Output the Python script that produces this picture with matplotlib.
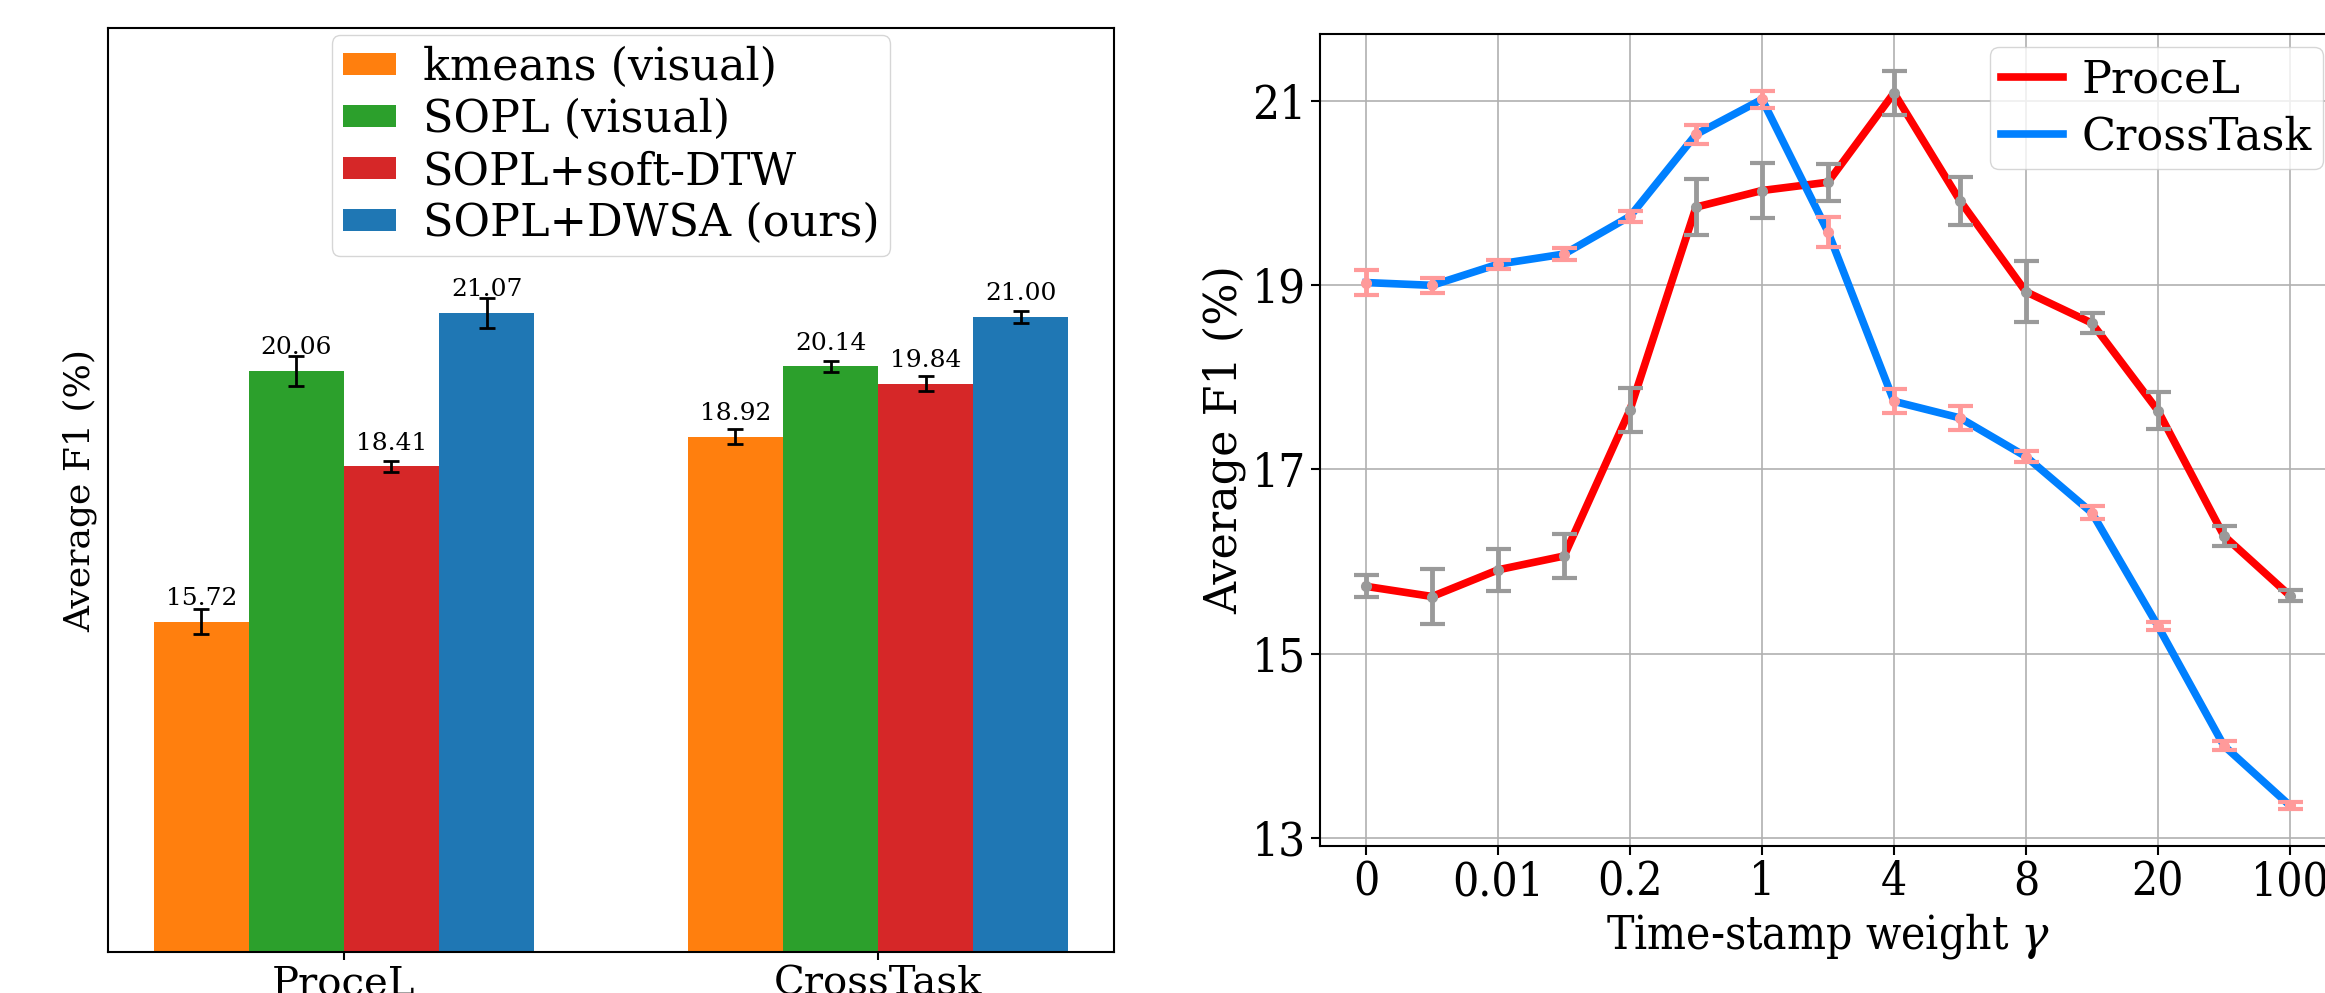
import matplotlib
matplotlib.use('Agg')
import matplotlib.pyplot as plt
from matplotlib import font_manager as fm
import numpy as np

plt.rcParams['font.family'] = 'DejaVu Serif'
plt.rcParams['mathtext.fontset'] = 'dejavuserif'

# ---------------- data: left bar chart ----------------
datasets = ['ProceL', 'CrossTask']
methods = ['kmeans (visual)', 'SOPL (visual)', 'SOPL+soft-DTW', 'SOPL+DWSA (ours)']
kmeans_f1 = [15.72, 18.92]
kmeans_err = [0.22, 0.13]
sopl_f1 = [20.06, 20.14]
sopl_err = [0.26, 0.09]
softdtw_f1 = [18.41, 19.84]
softdtw_err = [0.10, 0.13]
dwsa_f1 = [21.07, 21.00]
dwsa_err = [0.26, 0.10]
bar_colors = ['tab:orange', 'tab:green', 'tab:red', 'tab:blue']

# ---------------- data: right line chart ----------------
gamma_tick_labels = ['0', '0.01', '0.2', '1', '4', '8', '20', '100']
procel_f1 = [15.73, 15.62, 15.91, 16.06, 17.65, 19.85, 20.03, 20.12, 21.09,
             19.92, 18.93, 18.59, 17.64, 16.28, 15.63]
procel_err = [0.12, 0.30, 0.23, 0.24, 0.24, 0.30, 0.30, 0.20, 0.24,
              0.26, 0.33, 0.11, 0.20, 0.11, 0.06]
crosstask_f1 = [19.03, 19.00, 19.23, 19.34, 19.75, 20.64, 21.02, 19.58, 17.74,
                17.56, 17.14, 16.53, 15.30, 14.00, 13.35]
crosstask_err = [0.14, 0.08, 0.05, 0.07, 0.06, 0.10, 0.09, 0.16, 0.13,
                 0.13, 0.06, 0.07, 0.04, 0.05, 0.04]

# condensed serif for some texts of the right panel
cond_family = 'DejaVu Serif'
cond_stretch = 'normal'
for f in fm.fontManager.ttflist:
    if f.name == 'DejaVu Serif Condensed':
        cond_family = 'DejaVu Serif Condensed'
        cond_stretch = 'normal'
        break
    if f.name == 'DejaVu Serif' and f.stretch == 'condensed':
        cond_stretch = 'condensed'

W, H = 2325, 993
fig = plt.figure(figsize=(W / 100, H / 100), dpi=100)

# ================= left panel =================
ax1 = fig.add_axes([108 / W, 1 - 952 / H, (1114 - 108) / W, (952 - 28) / H])
x = np.arange(len(datasets))
width = 0.178
series = [(kmeans_f1, kmeans_err), (sopl_f1, sopl_err),
          (softdtw_f1, softdtw_err), (dwsa_f1, dwsa_err)]
for i, ((vals, errs), lab, col) in enumerate(zip(series, methods, bar_colors)):
    pos = x + (i - 1.5) * width
    ax1.bar(pos, vals, width, color=col, label=lab,
            yerr=errs, capsize=6,
            error_kw=dict(elinewidth=2, capthick=2, ecolor='black'))
    for p, v in zip(pos, vals):
        ax1.text(p, v + 0.2, f'{v:.2f}', ha='center', va='bottom', fontsize=18)
ax1.set_ylim(10, 26)
ax1.set_yticks([])
ax1.set_xticks(x)
ax1.set_xticklabels(datasets, fontsize=29)
ax1.tick_params(axis='x', length=6, width=1.5)
ax1.set_ylabel('Average F1 (%)', fontsize=26, labelpad=8)
for s in ax1.spines.values():
    s.set_linewidth(1.5)
ax1.legend(loc='upper center', fontsize=32, handlelength=1.2, handleheight=0.4,
           handletextpad=0.6, borderpad=0.25, borderaxespad=0.15, labelspacing=0.2)

# ================= right panel =================
ax2 = fig.add_axes([1320 / W, 1 - 846 / H, (2336 - 1320) / W, (846 - 34) / H])
xi = np.arange(len(procel_f1))
ax2.plot(xi, procel_f1, color='#ff0000', lw=5.5, label='ProceL', zorder=3)
ax2.errorbar(xi, procel_f1, yerr=procel_err, fmt='o', color='#9a9a9a',
             ecolor='#9a9a9a', markersize=7, elinewidth=3.5, capsize=9,
             capthick=3, zorder=4)
ax2.plot(xi, crosstask_f1, color='#0080ff', lw=5.5, label='CrossTask', zorder=3)
ax2.errorbar(xi, crosstask_f1, yerr=crosstask_err, fmt='o', color='#ff9a9a',
             ecolor='#ff9a9a', markersize=7, elinewidth=3.5, capsize=9,
             capthick=3, zorder=4)
ax2.set_xlim(-0.7, 14.7)
ax2.set_ylim(12.91, 21.73)
ax2.set_xticks(np.arange(0, 15, 2))
ax2.set_xticklabels(gamma_tick_labels, fontsize=33, family=cond_family,
                    fontstretch=cond_stretch)
ax2.set_yticks([13, 15, 17, 19, 21])
ax2.set_yticklabels(['13', '15', '17', '19', '21'], fontsize=34,
                    family=cond_family, fontstretch=cond_stretch)
ax2.tick_params(length=6.5, width=1.5)
ax2.grid(True, color='#b0b0b0', lw=1.2)
ax2.set_axisbelow(True)
ax2.set_xlabel(r'Time-stamp weight $\gamma$', fontsize=33, family=cond_family,
               fontstretch=cond_stretch)
ax2.set_ylabel('Average F1 (%)', fontsize=32, labelpad=4)
for s in ax2.spines.values():
    s.set_linewidth(1.5)
ax2.legend(loc='upper right', fontsize=32, handlelength=1.4,
           handletextpad=0.4, borderpad=0.25, borderaxespad=0.3, labelspacing=0.3)

fig.savefig('out.png', dpi=100)
